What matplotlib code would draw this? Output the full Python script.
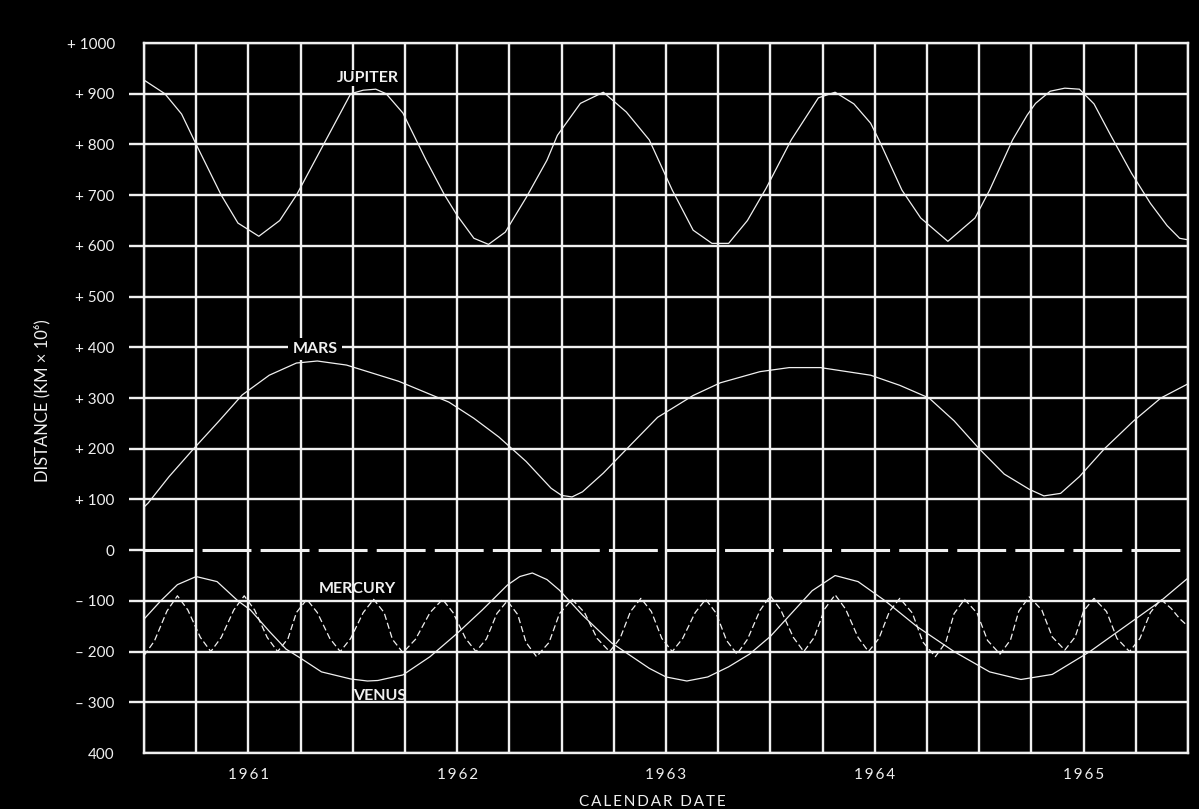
import matplotlib
matplotlib.use('Agg')
import matplotlib.pyplot as plt

# Values (year, distance in km x 10^6).
jupiter_year = [1960.50, 1960.60, 1960.68, 1960.75, 1960.87, 1960.95, 1961.05, 1961.15,
                1961.23, 1961.36, 1961.49, 1961.55, 1961.61, 1961.66, 1961.74, 1961.85,
                1961.94, 1962.00, 1962.08, 1962.15, 1962.23, 1962.33, 1962.43, 1962.48,
                1962.59, 1962.70, 1962.81, 1962.92, 1962.98, 1963.03, 1963.13, 1963.22,
                1963.30, 1963.39, 1963.48, 1963.60, 1963.73, 1963.81, 1963.90, 1963.98,
                1964.02, 1964.13, 1964.22, 1964.35, 1964.48, 1964.55, 1964.66, 1964.73,
                1964.77, 1964.84, 1964.91, 1964.98, 1965.05, 1965.13, 1965.23, 1965.32,
                1965.40, 1965.46, 1965.50]
jupiter_dist = [927, 900, 860, 800, 700, 645, 619, 650,
                700, 800, 900, 907, 909, 900, 862, 770,
                700, 660, 615, 603, 627, 695, 769, 818,
                881, 903, 864, 809, 755, 710, 631, 605,
                605, 650, 714, 809, 892, 903, 880, 842,
                809, 710, 655, 609, 655, 710, 809, 858,
                881, 905, 911, 909, 880, 818, 743, 684,
                640, 615, 612]

mars_year = [1960.50, 1960.52, 1960.62, 1960.74, 1960.86, 1960.97, 1961.10, 1961.23,
             1961.33, 1961.47, 1961.72, 1961.96, 1962.08, 1962.20, 1962.33, 1962.45,
             1962.50, 1962.55, 1962.60, 1962.70, 1962.82, 1962.96, 1963.00, 1963.13,
             1963.26, 1963.45, 1963.59, 1963.74, 1963.98, 1964.12, 1964.26, 1964.38,
             1964.50, 1964.62, 1964.74, 1964.81, 1964.89, 1964.98, 1965.10, 1965.24,
             1965.37, 1965.50]
mars_dist = [85, 93, 145, 201, 255, 306, 345, 369,
             373, 365, 333, 292, 260, 223, 175, 122,
             108, 105, 115, 152, 203, 262, 272, 305,
             330, 352, 360, 360, 345, 325, 300, 255,
             200, 150, 120, 107, 112, 145, 200, 255,
             300, 328]

venus_year = [1960.50, 1960.58, 1960.66, 1960.75, 1960.85, 1960.95, 1961.01, 1961.10,
              1961.18, 1961.25, 1961.35, 1961.49, 1961.57, 1961.62, 1961.74, 1961.87,
              1962.00, 1962.12, 1962.24, 1962.30, 1962.36, 1962.43, 1962.49, 1962.60,
              1962.74, 1962.92, 1963.00, 1963.10, 1963.20, 1963.30, 1963.40, 1963.50,
              1963.60, 1963.70, 1963.81, 1963.92, 1964.05, 1964.20, 1964.38, 1964.55,
              1964.70, 1964.85, 1965.03, 1965.20, 1965.37, 1965.50]
venus_dist = [-136, -100, -68, -52, -62, -100, -118, -160,
              -195, -213, -240, -254, -258, -257, -246, -210,
              -164, -118, -69, -52, -45, -58, -79, -128,
              -183, -233, -250, -258, -250, -230, -205, -170,
              -125, -80, -50, -62, -100, -150, -200, -240,
              -255, -245, -200, -150, -100, -55]

mercury_year = [1960.50, 1960.55, 1960.61, 1960.66, 1960.71, 1960.77, 1960.82, 1960.87,
                1960.93, 1960.98, 1961.03, 1961.09, 1961.14, 1961.19, 1961.23, 1961.28,
                1961.33, 1961.39, 1961.44, 1961.49, 1961.55, 1961.60, 1961.65, 1961.69,
                1961.74, 1961.80, 1961.87, 1961.93, 1961.98, 1962.04, 1962.09, 1962.14,
                1962.19, 1962.24, 1962.29, 1962.33, 1962.38, 1962.44, 1962.49, 1962.55,
                1962.61, 1962.67, 1962.73, 1962.78, 1962.83, 1962.88, 1962.93, 1962.98,
                1963.03, 1963.08, 1963.14, 1963.19, 1963.24, 1963.29, 1963.34, 1963.39,
                1963.45, 1963.50, 1963.55, 1963.61, 1963.66, 1963.71, 1963.76, 1963.81,
                1963.86, 1963.92, 1963.97, 1964.02, 1964.07, 1964.12, 1964.18, 1964.23,
                1964.29, 1964.34, 1964.38, 1964.43, 1964.49, 1964.54, 1964.60, 1964.65,
                1964.69, 1964.74, 1964.80, 1964.85, 1964.91, 1964.96, 1965.00, 1965.05,
                1965.11, 1965.16, 1965.22, 1965.27, 1965.32, 1965.37, 1965.42, 1965.46,
                1965.50]
mercury_dist = [-208, -179, -120, -90, -118, -172, -200, -172,
                -118, -90, -118, -172, -200, -174, -123, -97,
                -123, -174, -200, -174, -123, -97, -123, -176,
                -202, -176, -123, -97, -123, -174, -200, -175,
                -125, -100, -127, -182, -210, -182, -125, -97,
                -123, -174, -200, -174, -121, -95, -121, -174,
                -200, -174, -123, -97, -124, -178, -205, -176,
                -119, -90, -118, -172, -200, -172, -116, -88,
                -116, -172, -200, -174, -121, -95, -124, -181,
                -210, -182, -125, -97, -124, -178, -205, -177,
                -120, -92, -118, -171, -197, -171, -120, -95,
                -121, -174, -200, -174, -123, -97, -115, -135,
                -150]

year_ticks = [1961, 1962, 1963, 1964, 1965]
dist_ticks = [-400, -300, -200, -100, 0, 100, 200, 300, 400, 500, 600, 700, 800, 900, 1000]
dist_labels = ['400', '\u2013 300', '\u2013 200', '\u2013 100', '0', '+ 100', '+ 200', '+ 300',
               '+ 400', '+ 500', '+ 600', '+ 700', '+ 800', '+ 900', '+ 1000']

plt.rcParams['font.family'] = ['Lato', 'DejaVu Sans']
fg = '#f0f0f0'


def spaced(txt):
    # Loose letter spacing like the original lettering.
    return '  '.join('\u2009'.join(w) for w in txt.split(' '))


fig = plt.figure(figsize=[11.99, 8.09], dpi=100, facecolor='black')
ax = fig.add_axes([0.1201, 0.0692, 0.8707, 0.8776])
ax.set_facecolor('black')

ax.set_xlim(1960.5, 1965.5)
ax.set_ylim(-400, 1000)

# Grid: quarter years vertically, 100 steps horizontally, zero line dashed.
q = 1960.5
while q < 1965.51:
    ax.axvline(q, color=fg, lw=1.7, zorder=1)
    q += 0.25
for v in dist_ticks:
    if v == 0:
        ax.axhline(v, color=fg, lw=2.2, dashes=(16, 3), zorder=1)
    else:
        ax.axhline(v, color=fg, lw=1.7, zorder=1)

ax.plot(jupiter_year, jupiter_dist, color=fg, lw=0.9, zorder=3)
ax.plot(mars_year, mars_dist, color=fg, lw=0.9, zorder=3)
ax.plot(venus_year, venus_dist, color=fg, lw=0.9, zorder=3)
ax.plot(mercury_year, mercury_dist, color=fg, lw=0.9, dashes=(5, 2.5), zorder=3)

lab = dict(color=fg, fontsize=11.5, fontweight='bold', ha='center', va='center', zorder=4)
ax.text(1961.57, 931, 'JUPITER', bbox=dict(fc='black', ec='none', pad=1), **lab)
ax.text(1961.32, 396, 'MARS', bbox=dict(fc='black', ec='none', pad=3), **lab)
ax.text(1961.52, -77, 'MERCURY', **lab)
ax.text(1961.63, -287, 'VENUS', **lab)

for s in ax.spines.values():
    s.set_color(fg)
    s.set_linewidth(1.7)

ax.set_xticks(year_ticks)
ax.set_xticklabels([spaced(str(y)) for y in year_ticks])
ax.tick_params(axis='x', length=0, pad=11, colors=fg, labelsize=11)
ax.set_yticks(dist_ticks)
ax.set_yticklabels(dist_labels)
ax.tick_params(axis='y', length=11, width=1.7, pad=10, colors=fg, labelsize=11)
yt = ax.yaxis.get_major_ticks()
yt[0].tick1line.set_visible(False)
yt[-1].tick1line.set_visible(False)

fig.text(652 / 1199, 1 - 802 / 809, spaced('CALENDAR DATE'),
         color=fg, fontsize=11, ha='center', va='center')
fig.text(42 / 1199, 1 - 401 / 809, 'DISTANCE (KM \u00d7 10\u2076)', color=fg, fontsize=12,
         ha='center', va='center', rotation=90)

fig.savefig('out.png', dpi=100, facecolor='black')
